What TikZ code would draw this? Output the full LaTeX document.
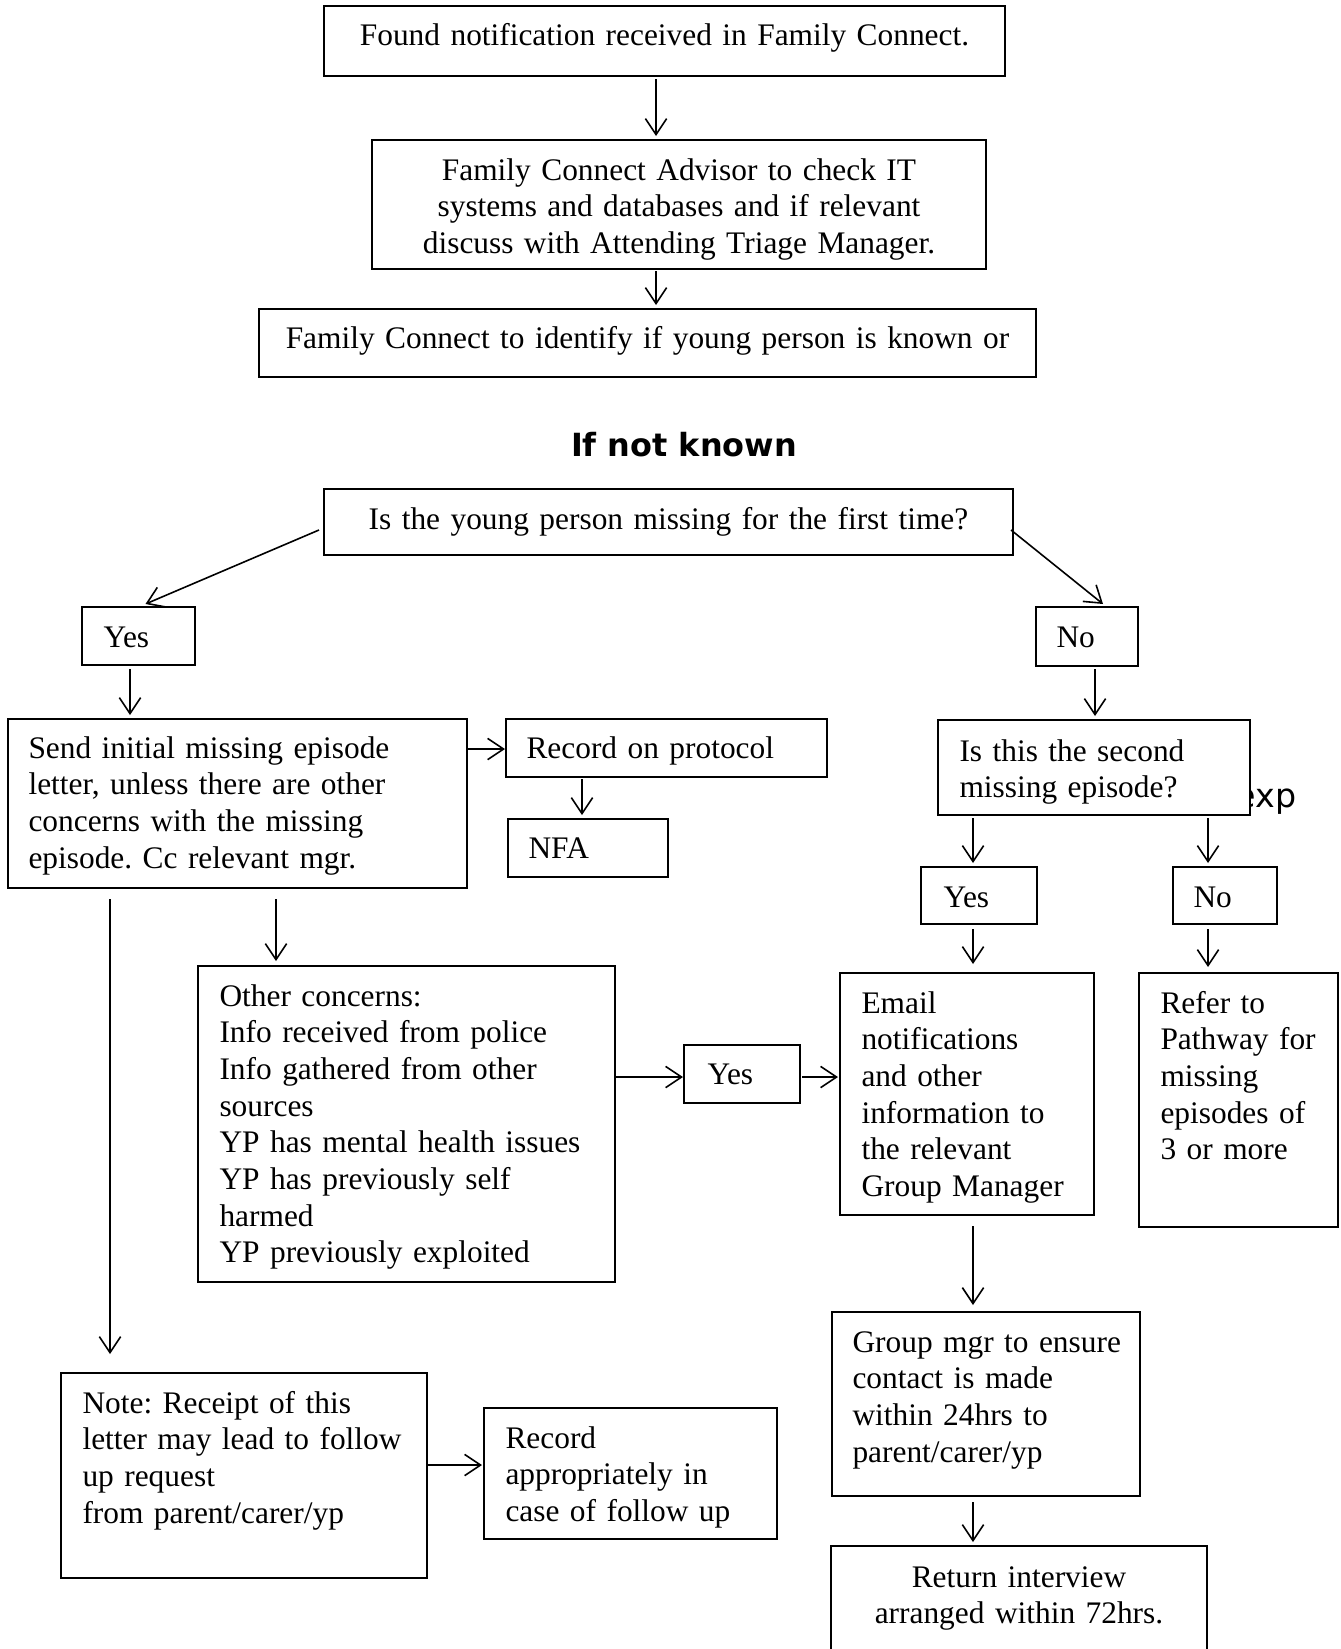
\documentclass[tikz,border=0pt]{standalone}
\usepackage{fontspec}
\setmainfont{Liberation Serif}
\newfontfamily\headsans{DejaVu Sans}
\usepackage{tikz}
\usetikzlibrary{arrows.meta,calc}
\frenchspacing
\newcommand{\pxu}{0.376pt}
\tikzstyle{box}=[rectangle,draw=black,fill=white,line width=0.6pt,inner sep=0pt,outer sep=0pt]
\tikzstyle{txt}=[anchor=base west,align=left,inner sep=0pt,font=\fontsize{11.8}{13.8}\selectfont]
\tikzstyle{ctxt}=[anchor=base,align=center,inner sep=0pt,font=\fontsize{11.8}{13.8}\selectfont]
\tikzstyle{arr}=[->,>={Straight Barb[length=6pt,width=8pt]},line width=0.6pt]

\begin{document}
\begin{tikzpicture}[x=0.376pt,y=-0.376pt]
        \useasboundingbox (0,0) rectangle (1341,1649);
        \clip (0,0) rectangle (1341,1649);
        % top of the chart
        \node [box,minimum width=681*\pxu,minimum height=70*\pxu] (found) at (664.5,41) {};
        \node [ctxt,text width=240pt] (foundT) at (664.5,45) {Found notification received in Family Connect.};
        \node [box,minimum width=614*\pxu,minimum height=129*\pxu] (advisor) at (679,204.5) {};
        \node [ctxt,text width=220pt] (advisorT) at (679,180) {Family Connect Advisor to check IT\\systems and databases and if relevant\\discuss with Attending Triage Manager.};
        \node [box,minimum width=777*\pxu,minimum height=68*\pxu] (identify) at (647.5,343) {};
        \node [ctxt,text width=285pt] (identifyT) at (647.5,348) {Family Connect to identify if young person is known or};
        \node [ctxt,font=\headsans\bfseries\fontsize{12}{14}\selectfont] (ifnot) at (684,456) {If not known};
        \node [box,minimum width=689*\pxu,minimum height=66*\pxu] (firsttime) at (668.5,522) {};
        \node [ctxt,text width=250pt] (firsttimeT) at (668.5,529) {Is the young person missing for the first time?};
        % yes branch
        \node [box,minimum width=113*\pxu,minimum height=58*\pxu] (yesA) at (138.5,636) {};
        \node [txt,text width=33pt] (yesAT) at (103,647) {Yes};
        \node [box,minimum width=459*\pxu,minimum height=169*\pxu] (send) at (237.5,803.5) {};
        \node [txt,text width=163pt] (sendT) at (28,758) {Send initial missing episode\\letter, unless there are other\\concerns with the missing\\episode. Cc relevant mgr.};
        \node [box,minimum width=321*\pxu,minimum height=58*\pxu] (record) at (666.5,748) {};
        \node [txt,text width=111pt] (recordT) at (526,758) {Record on protocol};
        \node [box,minimum width=160*\pxu,minimum height=58*\pxu] (nfa) at (588,848) {};
        \node [txt,text width=50pt] (nfaT) at (528,858) {NFA};
        \node [box,minimum width=417*\pxu,minimum height=316*\pxu] (other) at (406.5,1124) {};
        \node [txt,text width=147pt] (otherT) at (219,1006) {Other concerns:\\Info received from police\\Info gathered from other\\sources\\YP has mental health issues\\YP has previously self\\harmed\\YP previously exploited};
        \node [box,minimum width=116*\pxu,minimum height=58*\pxu] (yesC) at (742,1074) {};
        \node [txt,text width=33pt] (yesCT) at (707,1084) {Yes};
        \node [box,minimum width=366*\pxu,minimum height=205*\pxu] (note) at (244,1475.5) {};
        \node [txt,text width=128pt] (noteT) at (82,1413) {Note: Receipt of this\\letter may lead to follow\\up request\\from parent/carer/yp};
        \node [box,minimum width=293*\pxu,minimum height=131*\pxu] (recapp) at (630.5,1473.5) {};
        \node [txt,text width=100pt] (recappT) at (505,1448) {Record\\appropriately in\\case of follow up};
        % no branch
        \node [box,minimum width=102*\pxu,minimum height=59*\pxu] (noA) at (1087,636.5) {};
        \node [txt,text width=29pt] (noAT) at (1056,647) {No};
        \node [txt,font=\headsans\fontsize{12.5}{14}\selectfont] (exp) at (1235,807) {exp};
        \node [box,minimum width=312*\pxu,minimum height=95*\pxu] (second) at (1094,767.5) {};
        \node [txt,text width=107pt] (secondT) at (959,761) {Is this the second\\missing episode?};
        \node [box,minimum width=116*\pxu,minimum height=57*\pxu] (yesB) at (979,895.5) {};
        \node [txt,text width=33pt] (yesBT) at (943,907) {Yes};
        \node [box,minimum width=104*\pxu,minimum height=57*\pxu] (noB) at (1225,895.5) {};
        \node [txt,text width=30pt] (noBT) at (1193,907) {No};
        \node [box,minimum width=254*\pxu,minimum height=242*\pxu] (email) at (967,1094) {};
        \node [txt,text width=85pt] (emailT) at (861,1013) {Email\\notifications\\and other\\information to\\the relevant\\Group Manager};
        \node [box,minimum width=199*\pxu,minimum height=254*\pxu] (refer) at (1238.5,1100) {};
        \node [txt,text width=65pt] (referT) at (1160,1013) {Refer to\\Pathway for\\missing\\episodes of\\3 or more};
        \node [box,minimum width=308*\pxu,minimum height=184*\pxu] (group) at (986,1404) {};
        \node [txt,text width=106pt] (groupT) at (852,1352) {Group mgr to ensure\\contact is made\\within 24hrs to\\parent/carer/yp};
        \node [box,minimum width=376*\pxu,minimum height=134*\pxu] (ret) at (1019,1613) {};
        \node [ctxt,text width=135pt] (retT) at (1019,1587) {Return interview\\arranged within 72hrs.};
        % arrows
        \draw [arr] ($(found.south)+(-8.5,3)$) -- ($(advisor.north)+(-23,-4)$);
        \draw [arr] ($(advisor.south)+(-23,2)$) -- ($(identify.north)+(8.5,-4)$);
        \draw [arr] ($(firsttime.west)+(-5,8)$) -- ($(yesA.north)+(7,-3)$);
        \draw [arr] ($(firsttime.east)+(-2,8)$) -- ($(noA.north)+(16,-3)$);
        \draw [arr] ($(yesA.south)+(-8.5,4)$) -- ($(send.north)+(-107.5,-4)$);
        \draw [arr] ($(noA.south)+(8,3)$) -- ($(second.north)+(1,-4)$);
        \draw [arr] ($(send.east)+(0,-54.5)$) -- ($(record.west)+(-1,1)$);
        \draw [arr] ($(record.south)+(-84.5,2)$) -- ($(nfa.north)+(-6,-4)$);
        \draw [arr] ($(second.south)+(-121,3)$) -- ($(yesB.north)+(-6,-4)$);
        \draw [arr] ($(second.south)+(114,3)$) -- ($(noB.north)+(-17,-4)$);
        \draw [arr] ($(yesB.south)+(-6,5)$) -- ($(email.north)+(6,-9)$);
        \draw [arr] ($(noB.south)+(-17,5)$) -- ($(refer.north)+(-30.5,-6)$);
        \draw [arr] ($(send.south)+(-127.5,11)$) -- ($(note.north)+(-134,-19)$);
        \draw [arr] ($(send.south)+(38.5,11)$) -- ($(other.north)+(-130.5,-5)$);
        \draw [arr] ($(other.east)+(0,-47)$) -- ($(yesC.west)+(-1,3)$);
        \draw [arr] ($(yesC.east)+(2,3)$) -- ($(email.west)+(-2,-17)$);
        \draw [arr] ($(email.south)+(6,11)$) -- ($(group.north)+(-13,-7)$);
        \draw [arr] ($(group.south)+(-13,6)$) -- ($(ret.north)+(-46,-4)$);
        \draw [arr] ($(note.east)+(1,-10.5)$) -- ($(recapp.west)+(-2,-8.5)$);
\end{tikzpicture}
\end{document}
